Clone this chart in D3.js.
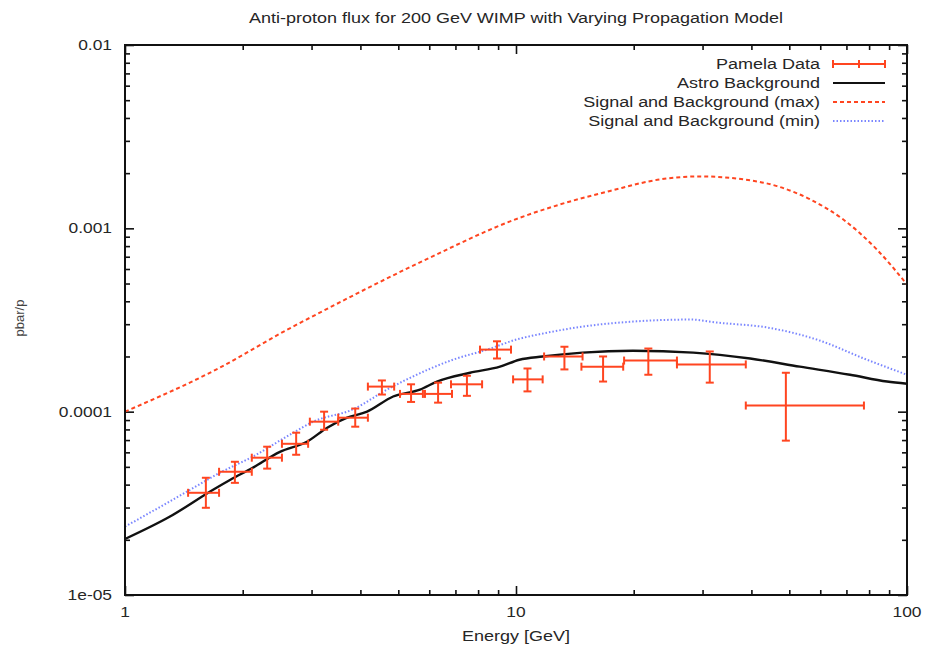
<!DOCTYPE html>
<html>
<head>
<meta charset="utf-8">
<script src="https://cdn.jsdelivr.net/npm/d3@7"></script>
<style>
  body { margin: 0; background: #fff; }
  text { font-family: "Liberation Sans", Arial, sans-serif; fill: #262626; }
</style>
</head>
<body>
<div id="chart"></div>
<script>
// Pamela data points: energy, value, x-bar low/high, y-bar low/high
var pamE    = [1.61, 1.91, 2.31, 2.74, 3.23, 3.88, 4.54, 5.39, 6.32, 7.49, 8.94, 10.7, 13.3, 16.7, 21.8, 31.3, 49.0];
var pamV    = [3.61e-5, 4.70e-5, 5.61e-5, 6.68e-5, 8.82e-5, 9.27e-5, 1.37e-4, 1.25e-4, 1.25e-4, 1.41e-4, 2.18e-4, 1.50e-4, 2.00e-4, 1.76e-4, 1.90e-4, 1.81e-4, 1.08e-4];
var pamElo  = [1.45, 1.74, 2.11, 2.52, 2.97, 3.51, 4.18, 5.05, 5.85, 6.82, 8.09, 9.83, 11.8, 14.7, 18.9, 25.8, 38.7];
var pamEhi  = [1.74, 2.11, 2.52, 2.94, 3.51, 4.18, 4.88, 5.78, 6.86, 8.19, 9.71, 11.7, 14.8, 18.8, 25.8, 38.7, 77.6];
var pamVlo  = [2.99e-5, 4.09e-5, 4.89e-5, 5.82e-5, 7.97e-5, 8.28e-5, 1.24e-4, 1.13e-4, 1.12e-4, 1.22e-4, 1.95e-4, 1.29e-4, 1.70e-4, 1.46e-4, 1.59e-4, 1.44e-4, 6.95e-5];
var pamVhi  = [4.36e-5, 5.33e-5, 6.44e-5, 7.68e-5, 1.00e-4, 1.04e-4, 1.48e-4, 1.41e-4, 1.44e-4, 1.57e-4, 2.42e-4, 1.72e-4, 2.26e-4, 2.00e-4, 2.21e-4, 2.13e-4, 1.63e-4];

// astro background
var bgE = [1.0, 1.30, 1.68, 1.86, 2.12, 2.49, 2.92, 3.29, 3.70, 4.16, 4.85, 5.68, 6.28, 7.63, 9.10, 10.2, 11.7, 14.8, 19.9, 28.4, 39.7, 53.2, 71.5, 88.9, 100];
var bgV = [2.02e-5, 2.67e-5, 3.75e-5, 4.25e-5, 4.94e-5, 6.04e-5, 6.86e-5, 8.18e-5, 9.27e-5, 1.0e-4, 1.21e-4, 1.32e-4, 1.46e-4, 1.63e-4, 1.76e-4, 1.92e-4, 2.0e-4, 2.10e-4, 2.15e-4, 2.10e-4, 1.95e-4, 1.76e-4, 1.59e-4, 1.46e-4, 1.42e-4];

// signal + background (max)
var maxE = [1.0, 1.75, 2.6, 3.15, 5.68, 10.2, 12.96, 17.4, 23.4, 29.5, 38.1, 46.5, 56.5, 68.6, 83.7, 100];
var maxV = [1.0e-4, 1.74e-4, 2.8e-4, 3.47e-4, 6.52e-4, 1.14e-3, 1.35e-3, 1.60e-3, 1.85e-3, 1.92e-3, 1.85e-3, 1.70e-3, 1.44e-3, 1.12e-3, 7.67e-4, 4.94e-4];

// signal + background (min)
var minE = [1.0, 1.44, 1.75, 2.12, 2.69, 3.03, 3.83, 4.68, 5.26, 6.90, 8.43, 10.2, 11.06, 14.8, 19.9, 27.9, 32.7, 43.8, 58.9, 79.0, 100];
var minV = [2.36e-5, 3.66e-5, 4.65e-5, 5.68e-5, 7.67e-5, 8.82e-5, 1.03e-4, 1.32e-4, 1.50e-4, 1.92e-4, 2.18e-4, 2.50e-4, 2.60e-4, 2.91e-4, 3.10e-4, 3.18e-4, 3.06e-4, 2.88e-4, 2.47e-4, 1.92e-4, 1.59e-4];

var xTicks = [1, 10, 100];
var yTicks = [1e-5, 1e-4, 1e-3, 1e-2];
var yTickLabels = ["1e-05", "0.0001", "0.001", "0.01"];
var legendLabels = ["Pamela Data", "Astro Background", "Signal and Background (max)", "Signal and Background (min)"];

var W = 925, H = 653;
var mLeft = 125, mRight = 907, mTop = 45, mBottom = 595;
var red = "#ff4520", blue = "#7a86ff";
var stretch = 1.2; // the source text is drawn a bit wide

var svg = d3.select("#chart").append("svg")
    .attr("width", W)
    .attr("height", H);

var x = d3.scaleLog().domain([1, 100]).range([mLeft, mRight]);
var y = d3.scaleLog().domain([1e-5, 0.01]).range([mBottom, mTop]);

// text drawn with a horizontal stretch
function wideText(g, tx, ty, anchor, size, str) {
    return g.append("text")
        .attr("transform", "translate(" + tx + "," + ty + ") scale(" + stretch + ",1)")
        .attr("text-anchor", anchor)
        .style("font-size", size + "px")
        .text(str);
}

// minor ticks 2..9 in each decade
function minors(lo, hi) {
    var out = [];
    for (var d = lo; d < hi * 0.999; d *= 10)
        for (var k = 2; k <= 9; k++) out.push(d * k);
    return out;
}

var xAxisB = d3.axisBottom(x).tickValues(xTicks).tickFormat("").tickSizeInner(-9).tickSizeOuter(0);
var xAxisT = d3.axisTop(x).tickValues(xTicks).tickFormat("").tickSizeInner(-9).tickSizeOuter(0);
var yAxisL = d3.axisLeft(y).tickValues(yTicks).tickFormat("").tickSizeInner(-9).tickSizeOuter(0);
var yAxisR = d3.axisRight(y).tickValues(yTicks).tickFormat("").tickSizeInner(-9).tickSizeOuter(0);

var xMinB = d3.axisBottom(x).tickValues(minors(1, 100)).tickFormat("").tickSizeInner(-5).tickSizeOuter(0);
var xMinT = d3.axisTop(x).tickValues(minors(1, 100)).tickFormat("").tickSizeInner(-5).tickSizeOuter(0);
var yMinL = d3.axisLeft(y).tickValues(minors(1e-5, 0.01)).tickFormat("").tickSizeInner(-5).tickSizeOuter(0);
var yMinR = d3.axisRight(y).tickValues(minors(1e-5, 0.01)).tickFormat("").tickSizeInner(-5).tickSizeOuter(0);

[[xAxisB, "translate(0," + mBottom + ")"], [xAxisT, "translate(0," + mTop + ")"],
 [yAxisL, "translate(" + mLeft + ",0)"], [yAxisR, "translate(" + mRight + ",0)"],
 [xMinB, "translate(0," + mBottom + ")"], [xMinT, "translate(0," + mTop + ")"],
 [yMinL, "translate(" + mLeft + ",0)"], [yMinR, "translate(" + mRight + ",0)"]].forEach(function(a) {
    var g = svg.append("g").attr("transform", a[1]).call(a[0]);
    g.select(".domain").remove();
    g.selectAll("line").style("stroke", "#111").style("stroke-width", 1.6);
});

// tick labels
xTicks.forEach(function(d) {
    wideText(svg, x(d), mBottom + 22, "middle", 14.5, d);
});
yTicks.forEach(function(d, i) {
    wideText(svg, mLeft - 13, y(d) + 5, "end", 14.5, yTickLabels[i]);
});

// axis titles
wideText(svg, (mLeft + mRight) / 2, 641, "middle", 15, "Energy [GeV]");

svg.append("text")
    .attr("transform", "rotate(-90)")
    .attr("x", -318)
    .attr("y", 24)
    .attr("text-anchor", "middle")
    .style("font-size", "13px")
    .style("fill", "#444")
    .text("pbar/p");

wideText(svg, (mLeft + mRight) / 2, 23, "middle", 15, "Anti-proton flux for 200 GeV WIMP with Varying Propagation Model");

var line = d3.line()
    .x(function(d) { return x(d[0]); })
    .y(function(d) { return y(d[1]); })
    .curve(d3.curveMonotoneX);

var plot = svg.append("g");

plot.append("path")
    .datum(d3.zip(maxE, maxV))
    .attr("d", line)
    .attr("fill", "none")
    .attr("stroke", red)
    .attr("stroke-width", 2)
    .attr("stroke-dasharray", "4,3");

plot.append("path")
    .datum(d3.zip(minE, minV))
    .attr("d", line)
    .attr("fill", "none")
    .attr("stroke", blue)
    .attr("stroke-width", 2)
    .attr("stroke-dasharray", "1.5,2");

plot.append("path")
    .datum(d3.zip(bgE, bgV))
    .attr("d", line)
    .attr("fill", "none")
    .attr("stroke", "#111")
    .attr("stroke-width", 2.4);

// error bars
var pts = d3.range(pamE.length).map(function(i) {
    return { e: pamE[i], v: pamV[i], elo: pamElo[i], ehi: pamEhi[i], vlo: pamVlo[i], vhi: pamVhi[i] };
});
var cap = 4;
var eb = plot.selectAll(".eb").data(pts).enter().append("g")
    .attr("stroke", red).attr("stroke-width", 2);
eb.append("line")
    .attr("x1", function(d) { return x(d.elo); }).attr("x2", function(d) { return x(d.ehi); })
    .attr("y1", function(d) { return y(d.v); }).attr("y2", function(d) { return y(d.v); });
eb.append("line")
    .attr("x1", function(d) { return x(d.e); }).attr("x2", function(d) { return x(d.e); })
    .attr("y1", function(d) { return y(d.vlo); }).attr("y2", function(d) { return y(d.vhi); });
["elo", "ehi"].forEach(function(k) {
    eb.append("line")
        .attr("x1", function(d) { return x(d[k]); }).attr("x2", function(d) { return x(d[k]); })
        .attr("y1", function(d) { return y(d.v) - cap; }).attr("y2", function(d) { return y(d.v) + cap; });
});
["vlo", "vhi"].forEach(function(k) {
    eb.append("line")
        .attr("x1", function(d) { return x(d.e) - cap; }).attr("x2", function(d) { return x(d.e) + cap; })
        .attr("y1", function(d) { return y(d[k]); }).attr("y2", function(d) { return y(d[k]); });
});

// legend
var lx0 = 833, lx1 = 885, ly = 64;
var leg = svg.append("g");
legendLabels.forEach(function(t, i) {
    var yy = ly + i * 19;
    wideText(leg, 820, yy + 5, "end", 15, t);
    if (i == 0) {
        leg.append("line").attr("x1", lx0).attr("x2", lx1).attr("y1", yy).attr("y2", yy)
            .attr("stroke", red).attr("stroke-width", 2);
        [lx0, (lx0 + lx1) / 2, lx1].forEach(function(px) {
            leg.append("line").attr("x1", px).attr("x2", px).attr("y1", yy - cap).attr("y2", yy + cap)
                .attr("stroke", red).attr("stroke-width", 2);
        });
    } else {
        var st = [null, ["#111", null], [red, "4,3"], [blue, "1.5,2"]][i];
        leg.append("line").attr("x1", lx0).attr("x2", lx1).attr("y1", yy).attr("y2", yy)
            .attr("stroke", st[0]).attr("stroke-width", 2)
            .attr("stroke-dasharray", st[1]);
    }
});

// frame
svg.append("rect")
    .attr("x", mLeft).attr("y", mTop)
    .attr("width", mRight - mLeft).attr("height", mBottom - mTop)
    .attr("fill", "none")
    .attr("stroke", "#111")
    .attr("stroke-width", 2);
</script>
</body>
</html>
